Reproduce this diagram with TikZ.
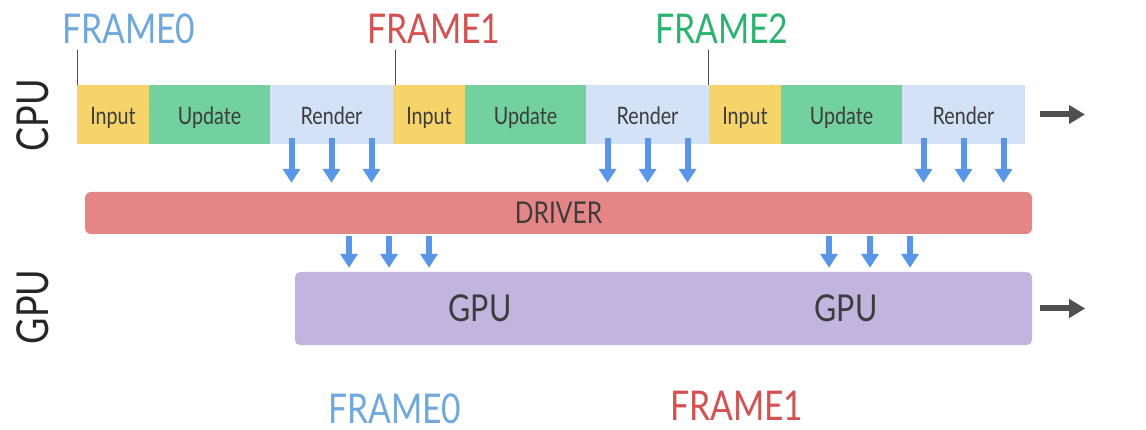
\documentclass[tikz,border=0pt]{standalone}
\usepackage{fontspec}
\setmainfont{Lato}[FakeStretch=0.82]
\usetikzlibrary{arrows.meta,calc}
\definecolor{inputc}{RGB}{246,212,106}
\definecolor{updatec}{RGB}{114,209,159}
\definecolor{renderc}{RGB}{212,226,248}
\definecolor{driverc}{RGB}{229,134,134}
\definecolor{gpuc}{RGB}{193,180,222}
\definecolor{bluea}{RGB}{88,150,235}
\definecolor{darka}{RGB}{80,80,80}
\definecolor{txt}{RGB}{60,60,60}
\definecolor{f0c}{RGB}{110,168,225}
\definecolor{f1c}{RGB}{215,80,80}
\definecolor{f2c}{RGB}{40,180,110}
\begin{document}
\begin{tikzpicture}[x=1pt,y=-1pt,
  seg/.style={minimum height=59pt,inner sep=0pt,outer sep=0pt,anchor=west,text=txt,text height=21pt,text depth=0pt,font=\fontsize{24}{24}\selectfont},
  inp/.style={seg,fill=inputc,minimum width=72pt},
  upd/.style={seg,fill=updatec,minimum width=121pt},
  ren/.style={seg,fill=renderc,minimum width=123pt},
  flabel/.style={font=\fontsize{41}{41}\selectfont,inner sep=0pt,anchor=base west},
  tick/.style={draw=darka,line width=1pt},
  bluearr/.style={draw=bluea,line width=6pt,-{Triangle[width=17pt,length=14pt]}},
  darkarr/.style={draw=darka,line width=6pt,-{Triangle[width=18pt,length=16pt]}},
  side/.style={font=\fontsize{44}{44}\selectfont,text=black!85,rotate=90,inner sep=0pt},
  bar/.style={inner sep=0pt,text=txt}]
\useasboundingbox (0,0) rectangle (1146,430);
% CPU bar
\node[inp] (i1) at (77,114.5) {Input};
\node[upd] (u1) at (149,114.5) {Update};
\node[ren] (r1) at (270,114.5) {Render};
\node[inp] (i2) at (393,114.5) {Input};
\node[upd] (u2) at (465,114.5) {Update};
\node[ren] (r2) at (586,114.5) {Render};
\node[inp] (i3) at (709,114.5) {Input};
\node[upd] (u3) at (781,114.5) {Update};
\node[ren] (r3) at (902,114.5) {Render};
% frame labels
\node[flabel,text=f0c] (f0) at (62,44) {FRAME0};
\node[flabel,text=f1c] (f1) at (367,44) {FRAME1};
\node[flabel,text=f2c] (f2) at (655,44) {FRAME2};
\draw[tick] (i1.north west) -- ++(0,-35);
\draw[tick] ([xshift=2pt]i2.north west) -- ++(0,-35);
\draw[tick] ([xshift=-1pt]i3.north west) -- ++(0,-35);
% side labels
\node[side] (cpu) at (33,115) {CPU};
\node[side] (gpu) at (33,307) {GPU};
% driver
\node[bar,fill=driverc,rounded corners=6pt,minimum width=947pt,minimum height=42pt,font=\fontsize{30}{30}\selectfont] (drv) at (558.5,213) {DRIVER};
% gpu bars
\node[bar,fill=gpuc,rounded corners=5pt,minimum width=372pt,minimum height=73pt,font=\fontsize{37}{37}\selectfont] (g2) at (846,308.5) {GPU};
\node[bar,fill=gpuc,rounded corners=5pt,minimum width=375pt,minimum height=73pt,font=\fontsize{37}{37}\selectfont] (g1) at (482.5,308.5) {\hspace*{-5pt}GPU};
% arrows CPU -> driver
\foreach \n/\dx in {r1/-40,r1/0,r1/40,r2/-40,r2/0,r2/40,r3/-40,r3/0,r3/40}{
  \draw[bluearr] ([xshift=\dx pt,yshift=6pt]\n.south) -- ([xshift=\dx pt]\n.south |- {$(drv.north)+(0,-9)$});
}
% arrows driver -> gpu
\foreach \x in {349,389,429}{
  \draw[bluearr] ($(drv.south -| \x,0)+(0,2)$) -- ($(g1.north -| \x,0)+(0,-4)$);
}
\foreach \x in {829,870,910}{
  \draw[bluearr] ($(drv.south -| \x,0)+(0,2)$) -- ($(g2.north -| \x,0)+(0,-4)$);
}
% right arrows
\draw[darkarr] ([xshift=15pt]r3.east) -- ++(45,0);
\draw[darkarr] ([xshift=8pt]g2.east) -- ++(45,0);
% bottom labels
\node[flabel,text=f0c] (b0) at (328,423) {FRAME0};
\node[flabel,text=f1c] (b1) at (670,420) {FRAME1};
\end{tikzpicture}
\end{document}
